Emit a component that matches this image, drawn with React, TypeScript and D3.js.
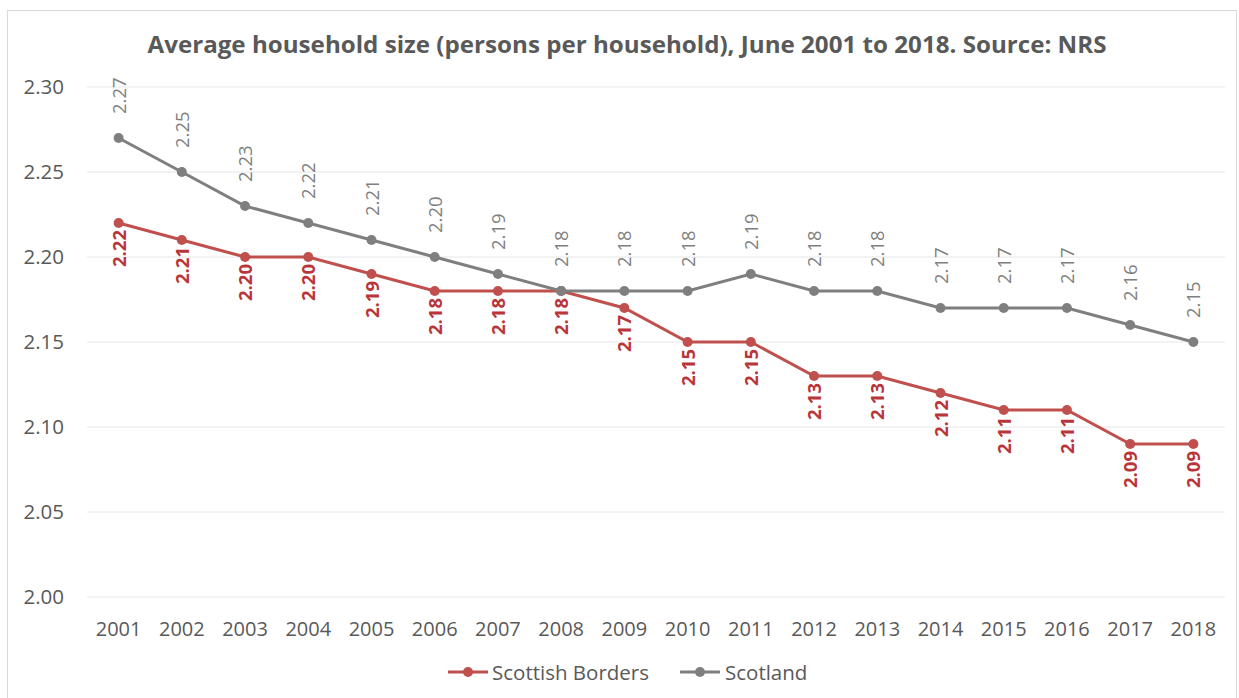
import React from "react";
import * as d3 from "d3";

const years = ["2001","2002","2003","2004","2005","2006","2007","2008","2009","2010","2011","2012","2013","2014","2015","2016","2017","2018"];
const borders = [2.22,2.21,2.20,2.20,2.19,2.18,2.18,2.18,2.17,2.15,2.15,2.13,2.13,2.12,2.11,2.11,2.09,2.09];
const scotland = [2.27,2.25,2.23,2.22,2.21,2.20,2.19,2.18,2.18,2.18,2.19,2.18,2.18,2.17,2.17,2.17,2.16,2.15];
const yTicks = [2.00,2.05,2.10,2.15,2.20,2.25,2.30];

const W = 1239, H = 698;
const FONT = "'Open Sans', sans-serif";
const RED = "#C0504D";
const RED_LABEL = "#B8353A";
const GREY = "#7F7F7F";
const TEXT = "#595959";

export default function App() {
  const x = d3.scaleBand().domain(years).range([87, 1225]);
  const y = d3.scaleLinear().domain([2.0, 2.3]).range([597, 87]);
  const cx = (yr: string) => (x(yr) as number) + x.bandwidth() / 2;
  const line = d3.line<number>().x((_, i) => cx(years[i])).y(d => y(d));
  return (
    <svg width={W} height={H} style={{ position: "absolute", left: 0, top: 0, background: "#fff" }}>
      <rect x={7.5} y={10.5} width={1229} height={700} fill="#fff" stroke="#d9d9d9" />
      <text x={627} y={53} textAnchor="middle" fontFamily={FONT} fontWeight="bold" fontSize={23.5} fill={TEXT} textLength={959} lengthAdjust="spacingAndGlyphs">
        Average household size (persons per household), June 2001 to 2018. Source: NRS
      </text>
      {yTicks.map(t => (
        <g key={t}>
          <line x1={87} x2={1225} y1={y(t)} y2={y(t)} stroke="#e6e6e6" strokeWidth={1} />
          <text x={64} y={y(t) + 7} textAnchor="end" fontFamily={FONT} fontSize={20.5} fill={TEXT}>{t.toFixed(2)}</text>
        </g>
      ))}
      {years.map(yr => (
        <text key={yr} x={cx(yr)} y={636} textAnchor="middle" fontFamily={FONT} fontSize={20} fill={TEXT}>{yr}</text>
      ))}
      <path d={line(borders) || ""} fill="none" stroke={RED} strokeWidth={3} />
      {borders.map((v, i) => (
        <g key={"b" + i}>
          <circle cx={cx(years[i])} cy={y(v)} r={5} fill={RED} />
          <text transform={`translate(${cx(years[i]) + 7},${y(v) + 7}) rotate(-90)`} textAnchor="end" fontFamily={FONT} fontSize={18.5} fontWeight="bold" fill={RED_LABEL}>{v.toFixed(2)}</text>
        </g>
      ))}
      <path d={line(scotland) || ""} fill="none" stroke={GREY} strokeWidth={3} />
      {scotland.map((v, i) => (
        <g key={"s" + i}>
          <circle cx={cx(years[i])} cy={y(v)} r={5} fill={GREY} />
          <text transform={`translate(${cx(years[i]) + 7},${y(v) - 24}) rotate(-90)`} textAnchor="start" fontFamily={FONT} fontSize={18.5} fill={GREY}>{v.toFixed(2)}</text>
        </g>
      ))}
      <g>
        <line x1={448} x2={488} y1={672} y2={672} stroke={RED} strokeWidth={3} />
        <circle cx={468} cy={672} r={5} fill={RED} />
        <text x={492} y={680} fontFamily={FONT} fontSize={20.5} fill={TEXT}>Scottish Borders</text>
        <line x1={680} x2={720} y1={672} y2={672} stroke={GREY} strokeWidth={3} />
        <circle cx={700} cy={672} r={5} fill={GREY} />
        <text x={725} y={680} fontFamily={FONT} fontSize={20.5} fill={TEXT}>Scotland</text>
      </g>
    </svg>
  );
}
